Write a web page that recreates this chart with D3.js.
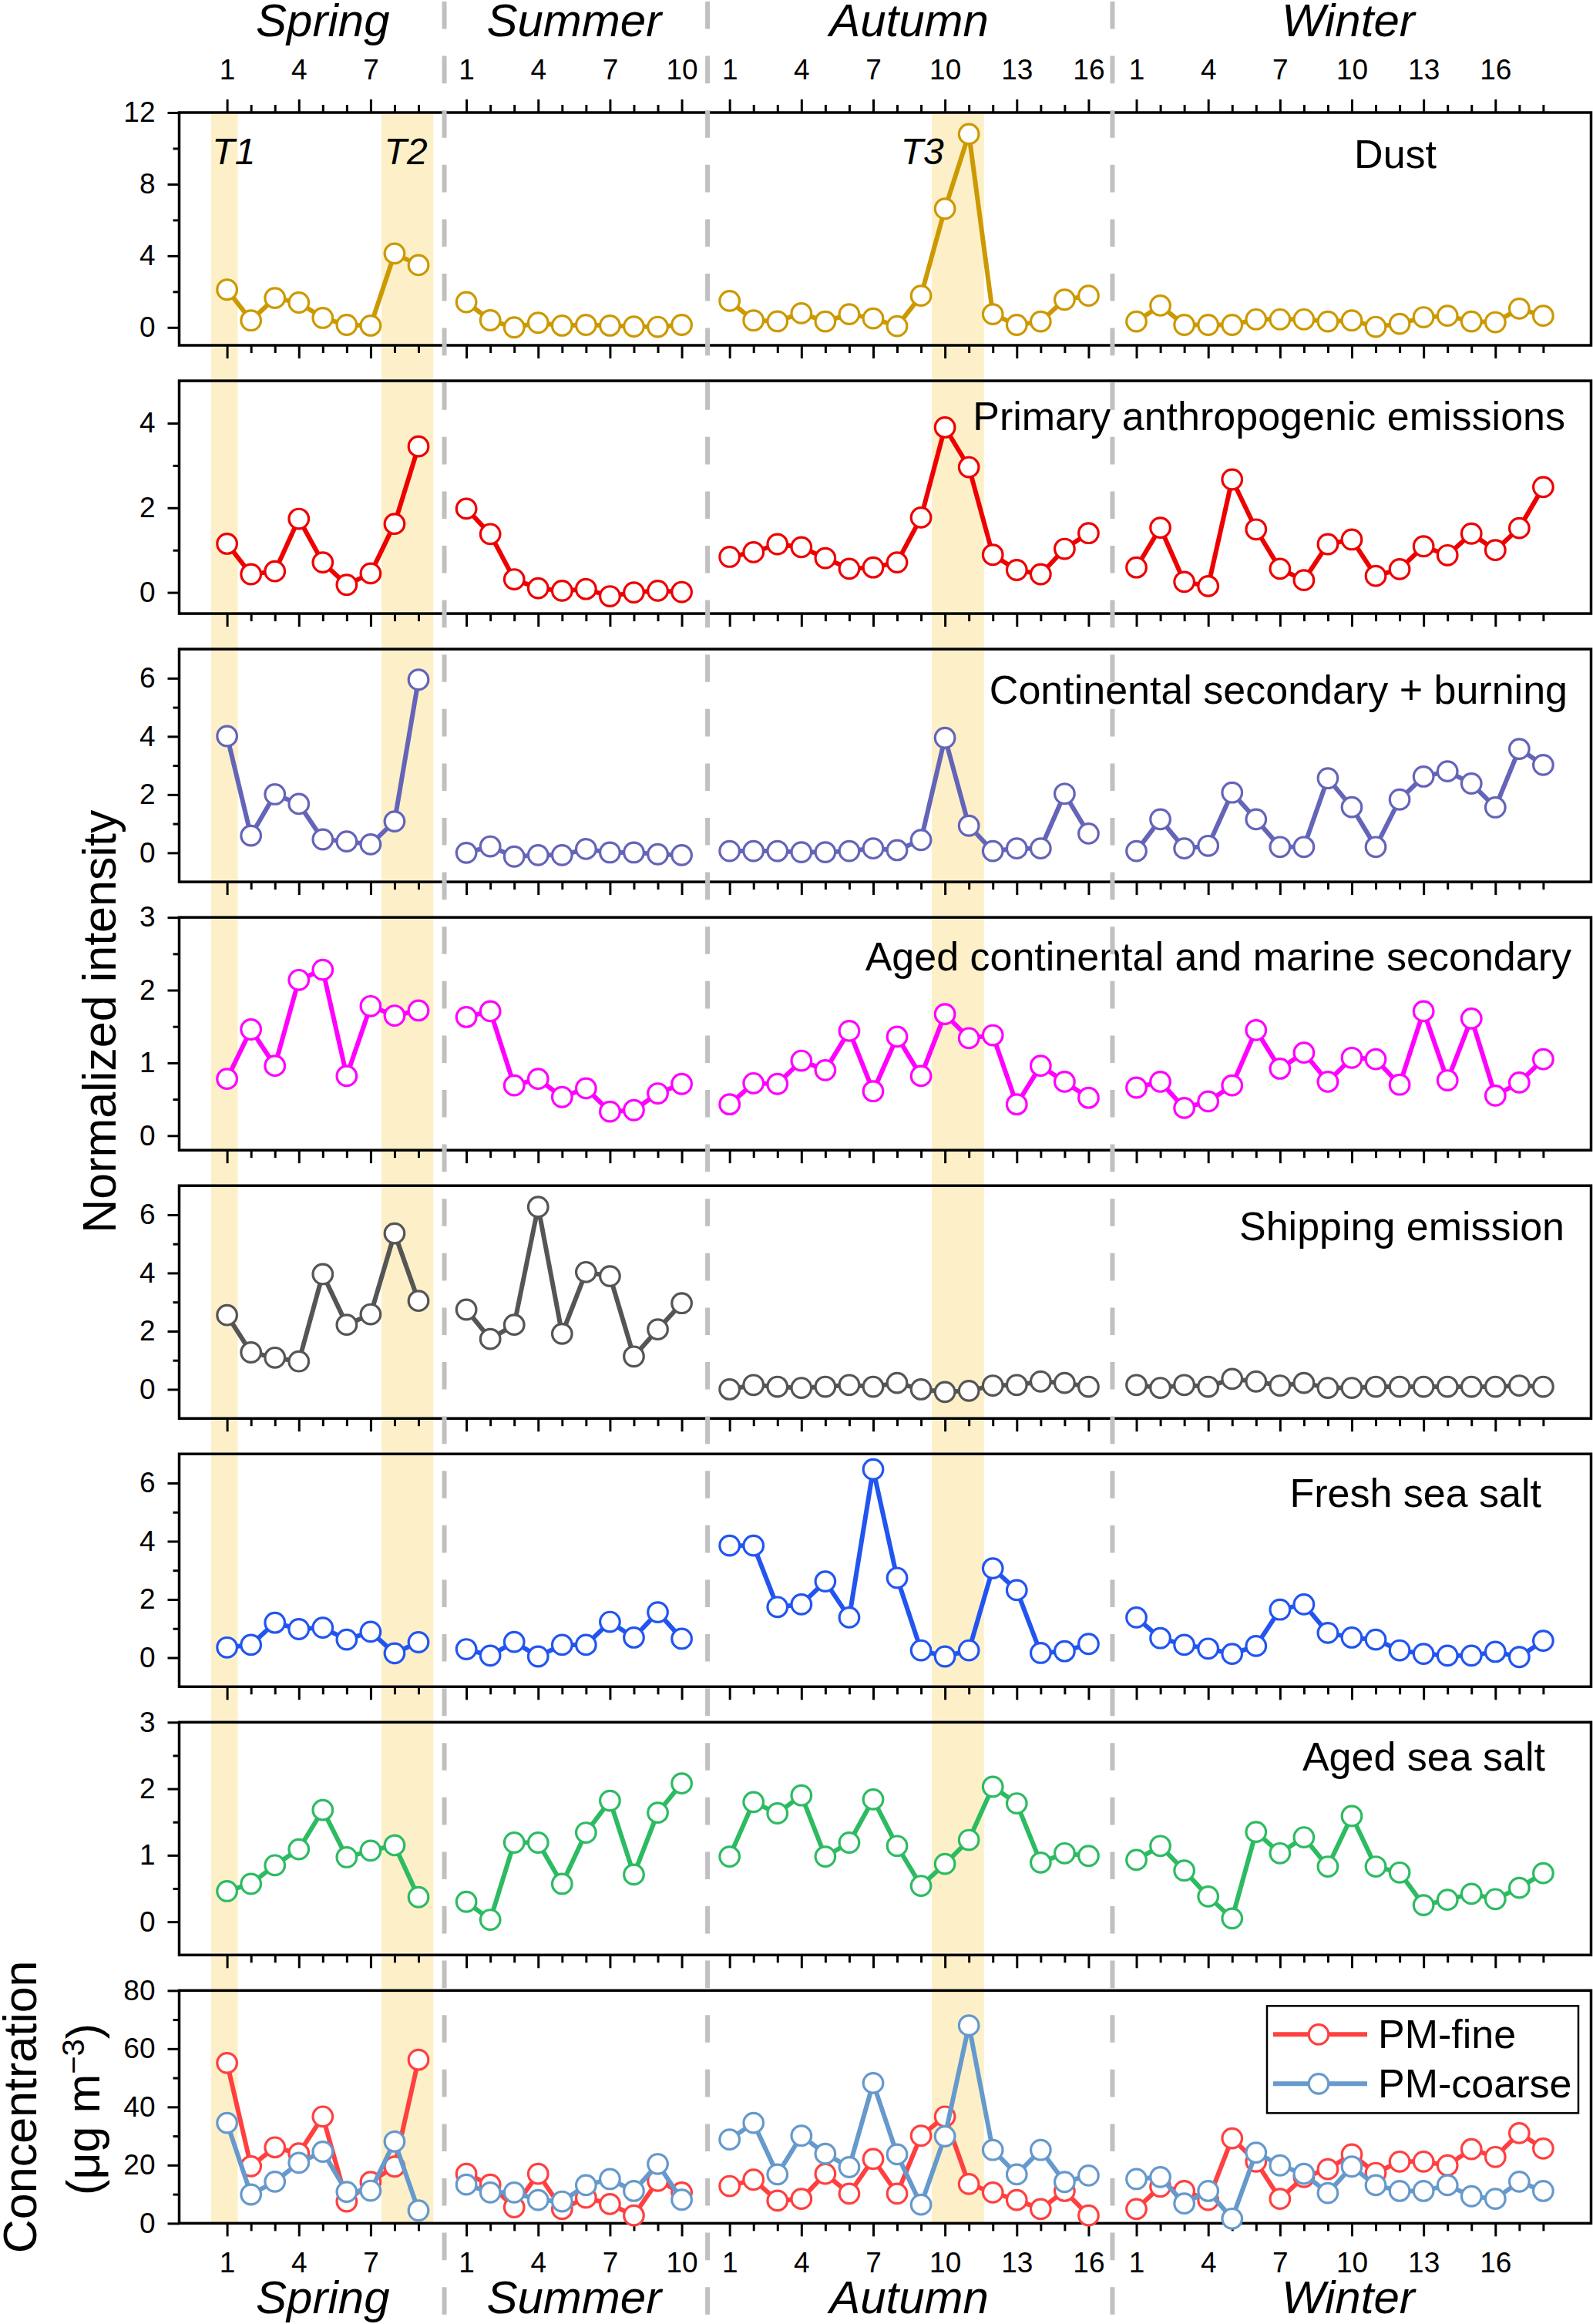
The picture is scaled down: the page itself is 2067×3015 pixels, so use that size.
<!DOCTYPE html>
<html><head><meta charset="utf-8">
<script src="https://cdn.jsdelivr.net/npm/d3@7"></script>
<style>
body{margin:0;background:#fff}
svg{display:block}
text{font-family:"Liberation Sans",Arial,Helvetica,sans-serif}
</style>
</head><body>
<svg id="c" width="2067" height="3015"></svg>
<script>
// ---------- data ----------
const seasons = ["Spring","Summer","Autumn","Winter"];
const seasonCounts = [9,10,16,18];
const seasonOffsets = [0,10,21,38];        // global index offset of each season
const separators = [10.08,21.08,38];       // global index of dashed season separators
const eventLabels = ["T1","T2","T3"];
const eventBands = [[0.33,1.45],[7.45,9.62],[30.45,32.63]]; // global index ranges
const eventLabelPos = [0.38,7.57,29.15];   // global index of label start

const panelNames = ["Dust","Primary anthropogenic emissions","Continental secondary + burning",
  "Aged continental and marine secondary","Shipping emission","Fresh sea salt","Aged sea salt"];

const dust = [
  [2.11,0.39,1.64,1.39,0.53,0.14,0.10,4.13,3.48],
  [1.41,0.40,0.00,0.26,0.10,0.14,0.10,0.05,0.03,0.14],
  [1.48,0.39,0.34,0.79,0.33,0.74,0.50,0.07,1.77,6.63,10.8,0.74,0.14,0.33,1.55,1.77],
  [0.33,1.22,0.14,0.14,0.14,0.45,0.45,0.45,0.33,0.39,0.03,0.20,0.57,0.65,0.33,0.29,1.05,0.65]];
const primary = [
  [1.15,0.43,0.50,1.74,0.71,0.18,0.45,1.62,3.45],
  [1.98,1.38,0.31,0.10,0.04,0.08,-0.09,0.00,0.04,0.01],
  [0.84,0.95,1.14,1.07,0.81,0.56,0.59,0.71,1.77,3.90,2.96,0.89,0.53,0.43,1.03,1.40],
  [0.59,1.53,0.25,0.15,2.67,1.49,0.56,0.29,1.14,1.25,0.39,0.55,1.09,0.88,1.39,1.00,1.52,2.49]];
const continental = [
  [4.01,0.59,2.01,1.68,0.46,0.39,0.29,1.08,5.95],
  [0.00,0.22,-0.13,-0.08,-0.08,0.13,0.01,0.01,-0.05,-0.08],
  [0.06,0.06,0.06,0.02,0.02,0.06,0.15,0.09,0.44,3.95,0.93,0.06,0.15,0.15,2.03,0.66],
  [0.06,1.15,0.15,0.24,2.07,1.15,0.20,0.20,2.56,1.57,0.20,1.83,2.62,2.80,2.38,1.56,3.57,3.02]];
const agedContinental = [
  [0.78,1.46,0.96,2.14,2.28,0.82,1.78,1.65,1.72],
  [1.63,1.71,0.69,0.78,0.53,0.65,0.33,0.35,0.58,0.71],
  [0.43,0.72,0.71,1.03,0.90,1.44,0.61,1.36,0.82,1.67,1.34,1.38,0.43,0.96,0.74,0.52],
  [0.66,0.74,0.38,0.47,0.69,1.45,0.92,1.14,0.74,1.07,1.05,0.70,1.71,0.76,1.61,0.55,0.73,1.05]];
const shipping = [
  [2.55,1.27,1.09,0.96,3.96,2.22,2.58,5.36,3.04],
  [2.74,1.73,2.22,6.27,1.91,4.03,3.89,1.13,2.06,2.96],
  [0.00,0.15,0.09,0.05,0.09,0.15,0.09,0.22,0.00,-0.09,-0.05,0.13,0.15,0.27,0.22,0.09],
  [0.15,0.05,0.15,0.09,0.36,0.27,0.13,0.22,0.05,0.05,0.09,0.09,0.09,0.09,0.09,0.09,0.13,0.09]];
const freshSeaSalt = [
  [0.35,0.44,1.20,0.98,1.03,0.62,0.89,0.15,0.53],
  [0.29,0.07,0.54,0.04,0.44,0.44,1.23,0.69,1.56,0.65],
  [3.85,3.85,1.74,1.83,2.62,1.38,6.47,2.74,0.25,0.04,0.25,3.07,2.32,0.16,0.22,0.47],
  [1.38,0.67,0.44,0.31,0.13,0.40,1.65,1.83,0.85,0.69,0.62,0.25,0.13,0.07,0.07,0.20,0.02,0.58]];
const agedSeaSalt = [
  [0.46,0.57,0.85,1.09,1.68,0.97,1.07,1.15,0.37],
  [0.30,0.03,1.19,1.19,0.57,1.34,1.82,0.71,1.64,2.08],
  [0.98,1.80,1.63,1.90,0.98,1.19,1.84,1.14,0.54,0.87,1.23,2.03,1.78,0.89,1.03,0.99],
  [0.93,1.14,0.77,0.38,0.05,1.35,1.03,1.27,0.83,1.59,0.83,0.74,0.25,0.33,0.42,0.34,0.51,0.73]];
const pmFine = [
  [55.1,19.6,26.1,24.0,36.7,7.5,14.2,19.5,56.2],
  [17.0,13.3,5.5,17.0,4.9,8.8,6.6,2.7,14.6,10.6],
  [12.8,15.0,7.8,8.4,17.0,10.2,22.1,10.2,30.1,36.7,13.5,10.6,8.0,4.9,11.1,2.7],
  [4.9,12.6,11.1,8.0,29.2,21.2,8.4,15.9,18.6,23.7,17.3,21.2,21.2,19.9,25.5,22.8,31.0,25.7]];
const pmCoarse = [
  [34.5,9.9,14.3,20.8,24.6,10.8,11.2,28.1,4.4],
  [13.3,10.6,10.6,8.0,7.5,13.1,15.2,11.1,20.4,8.1],
  [28.8,34.5,16.8,30.1,23.9,19.3,48.2,23.7,6.4,29.9,68.0,25.2,16.8,25.2,14.2,16.4],
  [15.2,15.9,6.8,11.1,1.6,24.3,19.9,17.0,10.4,19.5,13.1,11.1,11.1,13.1,9.3,8.4,14.3,11.1]];
const legendLabels = ["PM-fine","PM-coarse"];

const panelDomains = [[-1,12],[-0.5,5],[-1,7],[-0.2,3],[-1,7],[-1,7],[-0.5,3],[0,80]];
const panelMajorTicks = [[0,4,8,12],[0,2,4],[0,2,4,6],[0,1,2,3],[0,2,4,6],[0,2,4,6],[0,1,2,3],[0,20,40,60,80]];
const panelMinorTicks = [[2,6,10],[1,3],[1,3,5],[0.5,1.5,2.5],[1,3,5],[1,3,5],[0.5,1.5,2.5],[10,30,50,70]];

// ---------- style / layout ----------
const colors = ["#cc9900","#ee0000","#6464b9","#ff00ff","#555555","#2255f0","#2dbb62"];
const pmColors = ["#ff4040","#6699cc"];
const bandColor = "#fdf0c8";
const sepColor = "#c0c0c0";
const titleRight = [1864,2031,2034,2039,2030,2000,2005];
const titleBaselineOffset = [72,64,71,69,71,69,63];
const panelTop0 = 146, panelStep = 348.05, panelH = 302;
const fontTick = 37, fontTitle = 52, fontSeason = 60, fontAxis = 61;
const lineW = 6, markR = 12.8, markW = 3.2;

const svg = d3.select("#c");
svg.append("rect").attr("width",2067).attr("height",3015).attr("fill","#fff");

const x = d3.scaleLinear().domain([-1,58]).range([232.5,2064.5]);
const gIndex = (s,i) => seasonOffsets[s] + i + 1;
const panelTop = k => panelTop0 + k*panelStep;
const nPanels = 8;
const bottomAll = panelTop(nPanels-1) + panelH;

// bands
svg.append("g").selectAll("rect").data(eventBands).join("rect")
  .attr("x", d => x(d[0])).attr("width", d => x(d[1]) - x(d[0]))
  .attr("y", panelTop0).attr("height", bottomAll - panelTop0)
  .attr("fill", bandColor);

// ticks positions in global index
const majorX = [], minorX = [], labelOf = new Map();
seasonCounts.forEach((n,s) => {
  for (let i = 1; i <= n; i++) {
    const g = seasonOffsets[s] + i;
    if ((i - 1) % 3 === 0) { majorX.push(g); labelOf.set(g, String(i)); }
    else minorX.push(g);
  }
});

function styleAxis(sel){
  sel.select(".domain").remove();
  sel.selectAll("line").attr("stroke","#000").attr("stroke-width",3);
  sel.selectAll("text").filter(function(){ return !this.textContent; }).remove();
  sel.selectAll("text").attr("font-family",'"Liberation Sans",Arial,sans-serif')
    .attr("font-size",fontTick).attr("fill","#000");
}

const seriesList = [dust, primary, continental, agedContinental, shipping, freshSeaSalt, agedSeaSalt];

for (let k = 0; k < nPanels; k++) {
  const top = panelTop(k), bot = top + panelH;
  const y = d3.scaleLinear().domain(panelDomains[k]).range([bot, top]);
  const g = svg.append("g");

  // y axis
  g.append("g").attr("transform",`translate(${x.range()[0]},0)`)
    .call(d3.axisLeft(y).tickValues(panelMajorTicks[k]).tickSize(15).tickPadding(16).tickFormat(d3.format("d")))
    .call(styleAxis);
  g.append("g").attr("transform",`translate(${x.range()[0]},0)`)
    .call(d3.axisLeft(y).tickValues(panelMinorTicks[k]).tickSize(8).tickFormat(""))
    .call(styleAxis);

  // bottom x axis
  g.append("g").attr("transform",`translate(0,${bot})`)
    .call(d3.axisBottom(x).tickValues(majorX).tickSize(17).tickPadding(20)
      .tickFormat(k === nPanels-1 ? (d => labelOf.get(d)) : ""))
    .call(styleAxis);
  g.append("g").attr("transform",`translate(0,${bot})`)
    .call(d3.axisBottom(x).tickValues(minorX).tickSize(10).tickFormat(""))
    .call(styleAxis);

  if (k === 0) {
    g.append("g").attr("transform",`translate(0,${top})`)
      .call(d3.axisTop(x).tickValues(majorX).tickSize(17).tickPadding(26).tickFormat(d => labelOf.get(d)))
      .call(styleAxis);
    g.append("g").attr("transform",`translate(0,${top})`)
      .call(d3.axisTop(x).tickValues(minorX).tickSize(10).tickFormat(""))
      .call(styleAxis);
  }

  // frame
  g.append("rect").attr("x", x.range()[0]).attr("y", top)
    .attr("width", x.range()[1] - x.range()[0]).attr("height", panelH)
    .attr("fill","none").attr("stroke","#000").attr("stroke-width",3.5);

  const line = d3.line().x(d => x(d.g)).y(d => y(d.v));

  function drawSeries(data, color) {
    const sg = g.append("g");
    data.forEach((vals, s) => {
      const pts = vals.map((v,i) => ({g: gIndex(s,i), v}));
      sg.append("path").datum(pts).attr("d", line).attr("fill","none")
        .attr("stroke", color).attr("stroke-width", lineW).attr("stroke-linejoin","round");
    });
    data.forEach((vals, s) => {
      const pts = vals.map((v,i) => ({g: gIndex(s,i), v}));
      sg.selectAll(null).data(pts).join("circle")
        .attr("cx", d => x(d.g)).attr("cy", d => y(d.v)).attr("r", markR)
        .attr("fill","#fff").attr("stroke", color).attr("stroke-width", markW);
    });
  }

  if (k < 7) {
    drawSeries(seriesList[k], colors[k]);
    g.append("text").attr("x", titleRight[k]).attr("y", top + titleBaselineOffset[k])
      .attr("text-anchor","end").attr("font-size", fontTitle).text(panelNames[k]);
  } else {
    drawSeries(pmFine, pmColors[0]);
    drawSeries(pmCoarse, pmColors[1]);
    // legend
    const lg = g.append("g");
    lg.append("rect").attr("x",1644).attr("y",top+20).attr("width",404).attr("height",139)
      .attr("fill","#fff").attr("stroke","#000").attr("stroke-width",2.5);
    legendLabels.forEach((lab,i) => {
      const ly = top + 57 + i*64;
      lg.append("line").attr("x1",1652).attr("x2",1774).attr("y1",ly).attr("y2",ly)
        .attr("stroke",pmColors[i]).attr("stroke-width",lineW);
      lg.append("circle").attr("cx",1711).attr("cy",ly).attr("r",markR)
        .attr("fill","#fff").attr("stroke",pmColors[i]).attr("stroke-width",markW);
      lg.append("text").attr("x",1788).attr("y",ly+18).attr("font-size",fontTitle).text(lab);
    });
  }

  if (k === 0) {
    g.selectAll(null).data(eventLabels).join("text")
      .attr("x", (d,i) => x(eventLabelPos[i])).attr("y", y(9.1))
      .attr("font-size", 48).attr("font-style","italic").text(d => d);
  }
}

// season separators (dashed)
svg.append("g").selectAll("line").data(separators).join("line")
  .attr("x1", d => x(d)).attr("x2", d => x(d)).attr("y1", 2).attr("y2", 3015)
  .attr("stroke", sepColor).attr("stroke-width", 6).attr("stroke-dasharray","35.6,35");

// season labels (top and bottom)
const seasonCenters = seasonCounts.map((n,s) => seasonOffsets[s] + (n+1)/2 + (s === 3 ? 0.35 : 0));
[47, 3001].forEach(yy => {
  svg.append("g").selectAll("text").data(seasons).join("text")
    .attr("x", (d,i) => x(seasonCenters[i])).attr("y", yy)
    .attr("text-anchor","middle").attr("font-size", fontSeason).attr("font-style","italic").text(d => d);
});

// axis titles
svg.append("text").attr("transform",`translate(150,${(panelTop0 + panelTop(6)+panelH)/2 - 16}) rotate(-90)`)
  .attr("text-anchor","middle").attr("font-size",fontAxis).text("Normalized intensity");
const c8 = panelTop(7) + panelH/2;
svg.append("text").attr("transform",`translate(47,${c8}) rotate(-90)`)
  .attr("text-anchor","middle").attr("font-size",fontAxis).text("Concentration");
const u = svg.append("text").attr("transform",`translate(129,${c8+3}) rotate(-90)`)
  .attr("text-anchor","middle").attr("font-size",fontAxis);
u.append("tspan").text("(μg m");
u.append("tspan").attr("dy",-20).attr("font-size",40).text("−3");
u.append("tspan").attr("dy",20).text(")");
</script>
</body></html>
